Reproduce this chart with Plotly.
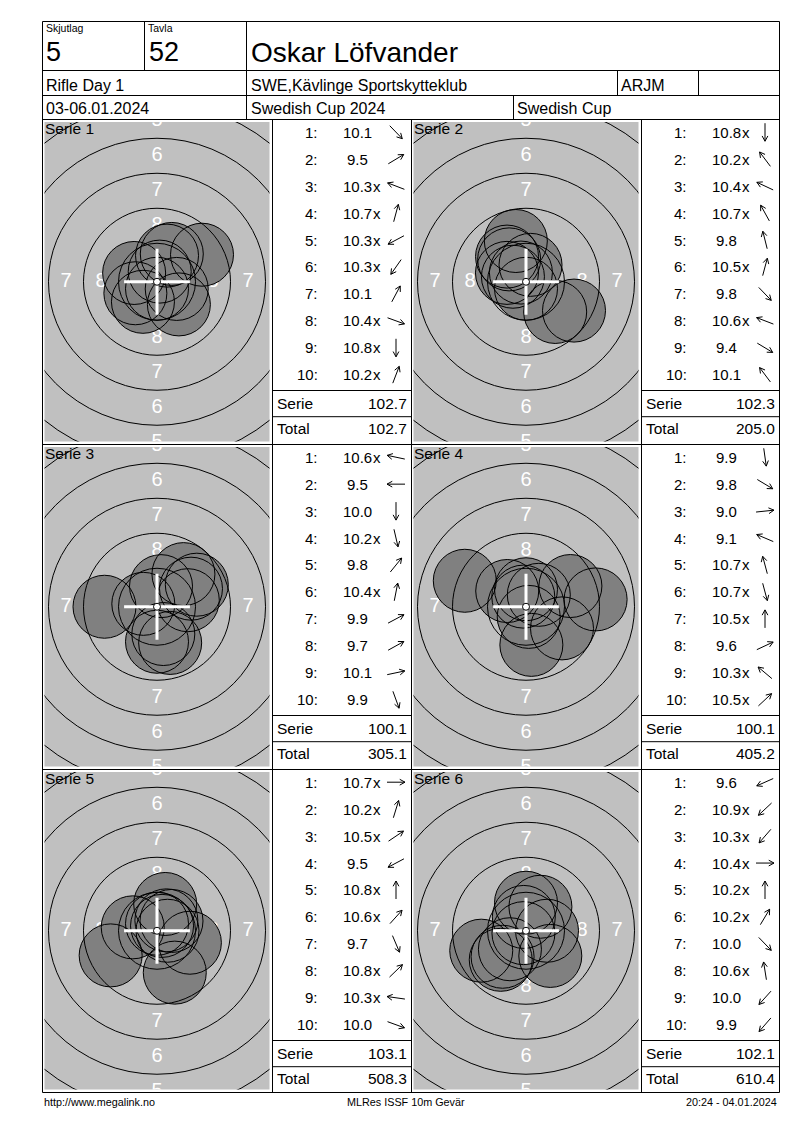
import math
import plotly.graph_objects as go

W, H = 800, 1130
OX, OY = 8, 8  # the page body adds an 8px margin round the figure
FONT = "Liberation Sans, Arial, sans-serif"
MM = 14.0  # pixels per mm on the target

# header
skjutlag = "5"
tavla = "52"
shooter = "Oskar Löfvander"
event = "Rifle Day 1"
club = "SWE,Kävlinge Sportskytteklub"
klass = "ARJM"
dates = "03-06.01.2024"
comp = "Swedish Cup 2024"
cup = "Swedish Cup"
footer = ["http://www.megalink.no", "MLRes ISSF 10m Gevär", "20:24 - 04.01.2024"]

# shots per serie: decimal score, inner ten flag, direction of the arrow (deg, 0 = right, 90 = up)
s1_score = [10.1, 9.5, 10.3, 10.7, 10.3, 10.3, 10.1, 10.4, 10.8, 10.2]
s1_x = [0, 0, 1, 1, 1, 1, 0, 1, 1, 1]
s1_dir = [-46, 31, 159, 75, 208, 235, 62, -20, -90, 69]

s2_score = [10.8, 10.2, 10.4, 10.7, 9.8, 10.5, 9.8, 10.6, 9.4, 10.1]
s2_x = [1, 1, 1, 1, 0, 1, 0, 1, 0, 0]
s2_dir = [-90, 127, 155, 119, 104, 75, -46, 159, -31, 127]

s3_score = [10.6, 9.5, 10.0, 10.2, 9.8, 10.4, 9.9, 9.7, 10.1, 9.9]
s3_x = [1, 0, 0, 1, 0, 1, 0, 0, 0, 0]
s3_dir = [168, 180, -90, -77, 51, 79, 28, 29, 12, -70]

s4_score = [9.9, 9.8, 9.0, 9.1, 10.7, 10.7, 10.5, 9.6, 10.3, 10.5]
s4_x = [0, 0, 0, 0, 1, 1, 1, 0, 1, 1]
s4_dir = [-82, -31, 6, 157, 105, -75, 90, 25, 140, 43]

s5_score = [10.7, 10.2, 10.5, 9.5, 10.8, 10.6, 9.7, 10.8, 10.3, 10.0]
s5_x = [1, 1, 1, 0, 1, 1, 0, 1, 1, 0]
s5_dir = [0, 73, 34, 208, 90, 48, -67, 44, 172, -20]

s6_score = [9.6, 10.9, 10.3, 10.4, 10.2, 10.2, 10.0, 10.6, 10.0, 9.9]
s6_x = [0, 1, 1, 1, 1, 1, 0, 1, 0, 0]
s6_dir = [204, 223, 229, 0, 90, 59, -46, 99, 228, 229]

serie_sum = [102.7, 102.3, 100.1, 100.1, 103.1, 102.1]
running_total = [102.7, 205.0, 305.1, 405.2, 508.3, 610.4]

series = [(s1_score, s1_x, s1_dir), (s2_score, s2_x, s2_dir), (s3_score, s3_x, s3_dir),
          (s4_score, s4_x, s4_dir), (s5_score, s5_x, s5_dir), (s6_score, s6_x, s6_dir)]

ring_numbers = [1, 2, 3, 4, 5, 6, 7, 8, 9]
label_vertical = [5, 6, 7, 8]   # ring numbers that fit above/below the centre
label_side = [7, 8]             # ring numbers that fit left/right of the centre

# page grid (pixels of the browser window)
block_top = [119.5, 444.5, 769.5]
block_bot = [444.5, 769.5, 1092.5]
col_left = [42.5, 411.5]
score_left = [272.5, 641.5]
score_right = [411.5, 779.5]

fig = go.Figure()
shapes = []


def px(x):
    return (x - OX) / W


def py(y):
    return 1 - (y - OY) / H


def line(x0, y0, x1, y1, width=1):
    shapes.append(dict(type="line", xref="paper", yref="paper", x0=px(x0), y0=py(y0),
                       x1=px(x1), y1=py(y1), line=dict(color="black", width=width)))


def txt(x, y, s, size=15.5, anchor="left", color="black"):
    fig.add_annotation(x=px(x), y=py(y), xref="paper", yref="paper", text=s, showarrow=False,
                       xanchor=anchor, yanchor="middle",
                       font=dict(family=FONT, size=size, color=color))


def arrow(cx, cy, ang, length=18, head=6):
    a = math.radians(ang)
    dx, dy = math.cos(a), -math.sin(a)
    hx, hy = cx + dx * length / 2, cy + dy * length / 2
    tx, ty = cx - dx * length / 2, cy - dy * length / 2
    pts = []
    for s in (0.5, -0.5):
        b = math.atan2(-dy, -dx) + s
        pts.append((hx + head * math.cos(b), hy + head * math.sin(b)))
    p = lambda x, y: f"{px(x):.5f},{py(y):.5f}"
    path = (f"M{p(tx, ty)} L{p(hx, hy)} M{p(*pts[0])} L{p(hx, hy)} L{p(*pts[1])}")
    shapes.append(dict(type="path", xref="paper", yref="paper", path=path,
                       line=dict(color="black", width=1)))


# targets
for i, (score, inner, dirs) in enumerate(series):
    row, col = divmod(i, 2)
    T, B = block_top[row], block_bot[row]
    x0, x1 = col_left[col] + 2, col_left[col] + 227
    y0, y1 = T + 2.5, B - 3
    sid = "" if i == 0 else str(i + 1)
    hx, hy = (x1 - x0) / 2 / MM, (y1 - y0) / 2 / MM
    fig.update_layout({
        f"xaxis{sid}": dict(domain=[px(x0), px(x1)], range=[-hx, hx], visible=False,
                            fixedrange=True, anchor=f"y{sid}"),
        f"yaxis{sid}": dict(domain=[py(y1), py(y0)], range=[-hy, hy], visible=False,
                            fixedrange=True, anchor=f"x{sid}"),
    })
    xr, yr = f"x{sid}", f"y{sid}"

    lx, ly, lt = [], [], []
    for n in label_vertical:
        r = (10 - n) * 2.5 - 1.0
        lx += [0, 0]
        ly += [r, -r]
        lt += [str(n), str(n)]
    for n in label_side:
        r = (10 - n) * 2.5 - 1.0
        lx += [-r, r]
        ly += [0, 0]
        lt += [str(n), str(n)]
    fig.add_trace(go.Scatter(x=lx, y=ly, text=lt, mode="text", xaxis=xr, yaxis=yr,
                             textfont=dict(family=FONT, size=20, color="white"),
                             hoverinfo="skip", showlegend=False, cliponaxis=True))

    sx = [(11.0 - s) * 2.5 * math.cos(math.radians(d)) for s, d in zip(score, dirs)]
    sy = [(11.0 - s) * 2.5 * math.sin(math.radians(d)) for s, d in zip(score, dirs)]
    for cx, cy in zip(sx, sy):
        shapes.append(dict(type="circle", xref=xr, yref=yr, x0=cx - 2.25, x1=cx + 2.25,
                           y0=cy - 2.25, y1=cy + 2.25, fillcolor="#808080",
                           line=dict(width=0)))
    for cx, cy in zip(sx, sy):
        shapes.append(dict(type="circle", xref=xr, yref=yr, x0=cx - 2.25, x1=cx + 2.25,
                           y0=cy - 2.25, y1=cy + 2.25, fillcolor="rgba(0,0,0,0)",
                           line=dict(color="black", width=1)))
    for n in ring_numbers:
        r = 0.25 + (10 - n) * 2.5
        shapes.append(dict(type="circle", xref=xr, yref=yr, x0=-r, x1=r, y0=-r, y1=r,
                           line=dict(color="black", width=1)))
    shapes.append(dict(type="line", xref=xr, yref=yr, x0=-2.35, x1=2.35, y0=0, y1=0,
                       line=dict(color="white", width=3)))
    shapes.append(dict(type="line", xref=xr, yref=yr, x0=0, x1=0, y0=-2.35, y1=2.35,
                       line=dict(color="white", width=3)))
    shapes.append(dict(type="circle", xref=xr, yref=yr, x0=-0.25, x1=0.25, y0=-0.25, y1=0.25,
                       fillcolor="white", line=dict(color="black", width=1)))

    txt(col_left[col] + 0.5, T + 9.3, f"Serie {i + 1}")

    # score column
    sl, sr = score_left[col], score_right[col]
    for k, (s, x, d) in enumerate(zip(score, inner, dirs)):
        yk = T + 12.7 + 26.95 * k
        txt(sl + 47.5, yk, f"{k + 1}:", size=15, anchor="right")
        txt(sl + 84.5, yk, f"{s:.1f}", size=15, anchor="center")
        if x:
            txt(sl + 84.5 + 14.2, yk, "x", size=15)
        arrow(sl + 123.5, yk, d)
    line(sl, T + 271, sr, T + 271)
    line(sl, T + 297.2, sr, T + 297.2)
    txt(sl + 2.5, T + 283.8, "Serie")
    txt(sr - 2.5, T + 283.8, f"{serie_sum[i]:.1f}", anchor="right")
    txt(sl + 2.5, T + 308.7, "Total")
    txt(sr - 2.5, T + 308.7, f"{running_total[i]:.1f}", anchor="right")

# table lines
L, R = 42.5, 779.5
line(L, 21.5, R, 21.5)
line(L, 1092.5, R, 1092.5)
line(L, 21.5, L, 1092.5)
line(R, 21.5, R, 1092.5)
for y in (70.5, 95.5, 119.5, 444.5, 769.5):
    line(L, y, R, y)
line(144.5, 21.5, 144.5, 70.5)
line(246.5, 21.5, 246.5, 119.5)
line(617.5, 70.5, 617.5, 95.5)
line(698.5, 70.5, 698.5, 95.5)
line(513.5, 95.5, 513.5, 119.5)
for x in (272.5, 411.5, 641.5):
    line(x, 119.5, x, 1092.5)

# header text
txt(43.5, 27.8, "Skjutlag", size=10.5)
txt(145.5, 27.8, "Tavla", size=10.5)
txt(44, 52.2, skjutlag, size=27)
txt(146.5, 52.2, tavla, size=27)
txt(248.5, 52.2, shooter, size=28)
txt(44, 85.2, event, size=16)
txt(248.5, 85.2, club, size=16)
txt(618.5, 85.2, klass, size=16)
txt(44, 108.3, dates, size=16)
txt(248.5, 108.3, comp, size=16)
txt(515, 108.3, cup, size=16)

# footer
txt(42, 1102, footer[0], size=10.8)
txt(406, 1102, footer[1], size=10.8, anchor="center")
txt(779, 1102, footer[2], size=10.8, anchor="right")

fig.update_layout(width=W, height=H, margin=dict(l=0, r=0, t=0, b=0),
                  paper_bgcolor="white", plot_bgcolor="#C0C0C0",
                  shapes=shapes, showlegend=False)
fig.write_html("out.html")
